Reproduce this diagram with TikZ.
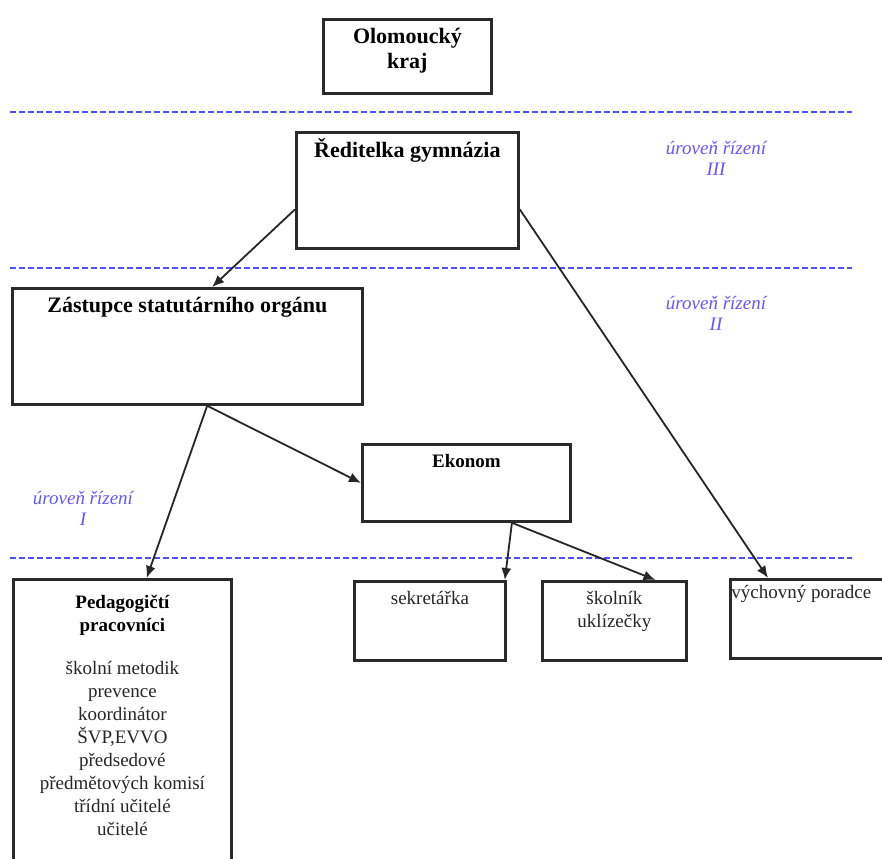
\documentclass[tikz,border=0pt]{standalone}
\usepackage{fontspec}
\setmainfont{Liberation Serif}
\usetikzlibrary{arrows.meta,calc}
\definecolor{lvlblue}{HTML}{6655FF}
\definecolor{dashblue}{HTML}{4F4FFF}
\definecolor{bordergray}{HTML}{2A2A2A}
\newcommand{\bxc}[4]{\parbox[c][#2][t]{#1}{\vspace*{#3}\centering #4\par}}
\newcommand{\hdbig}{\fontsize{22}{25}\bfseries\selectfont}
\newcommand{\hdmid}{\fontsize{19}{23}\bfseries\selectfont}
\newcommand{\bodyt}{\fontsize{19}{23}\mdseries\selectfont\color{black!85}}
\tikzset{
  bx/.style={draw=bordergray, line width=2.8pt, fill=white, inner sep=0pt, anchor=north west},
  arr/.style={-{Latex[length=12pt,width=10pt]}, line width=1.8pt, draw=black!85},
  lvlline/.style={draw=dashblue, line width=2.4pt, dash pattern=on 6pt off 3pt},
  lvllab/.style={align=center, inner sep=0pt, anchor=north, text=lvlblue,
    font=\fontsize{19}{21}\itshape\selectfont}
}
\begin{document}
\begin{tikzpicture}[x=1pt,y=-1pt]
\path[use as bounding box, fill=white] (0,0) rectangle (882,858);
\clip (0,0) rectangle (882,858);
% level lines
\draw[lvlline] (10,112) -- (852,112);
\draw[lvlline] (10,268) -- (852,268);
\draw[lvlline] (10,558) -- (852,558);
% boxes
\node[bx] (olo) at (322,18) {\bxc{168pt}{74pt}{9pt}{\hdbig Olomoucký\\kraj}};
\node[bx] (red) at (295,131) {\bxc{222pt}{116pt}{6pt}{\hdbig Ředitelka gymnázia}};
\node[bx] (zast) at (11,287) {\bxc{350pt}{116pt}{9pt}{\hdbig Zástupce statutárního orgánu}};
\node[bx] (ekon) at (361,443) {\bxc{208pt}{77pt}{10pt}{\hdmid Ekonom}};
\node[bx] (ped) at (12,578) {\bxc{218pt}{300pt}{16pt}{{\hdmid Pedagogičtí\\pracovníci\par}\vspace{20pt}{\bodyt školní metodik\\prevence\\koordinátor\\ŠVP,EVVO\\předsedové\\předmětových komisí\\třídní učitelé\\učitelé\par}}};
\node[bx] (sekr) at (353,580) {\bxc{151pt}{79pt}{10pt}{\bodyt sekretářka}};
\node[bx] (skol) at (541,580) {\bxc{144pt}{79pt}{10pt}{\bodyt školník\\uklízečky}};
\node[bx] (vych) at (729,578) {\parbox[c][79pt][t]{170pt}{\vspace*{6pt}\raggedright\hspace*{1pt}\bodyt výchovný poradce\par}};
% level labels
\node[lvllab] (l3) at (716,141) {úroveň řízení\\III};
\node[lvllab] (l2) at (716,296) {úroveň řízení\\II};
\node[lvllab] (l1) at (83,491) {úroveň řízení\\I};
% connectors
\draw[arr] ($(red.north west)!0.66!(red.south west)$) -- ($(zast.north west)!0.57!(zast.north east)$);
\draw[arr] ($(red.north east)!0.66!(red.south east)$) -- ($(vych.north west)+(39,0)$);
\draw[arr] ($(zast.south west)!0.556!(zast.south east)$) -- ($(ped.north west)!0.61!(ped.north east)$);
\draw[arr] ($(zast.south west)!0.556!(zast.south east)$) -- (ekon.west);
\draw[arr] ($(ekon.south west)!0.716!(ekon.south east)$) -- ($(sekr.north east)+(-2,0)$);
\draw[arr] ($(ekon.south west)!0.716!(ekon.south east)$) -- ($(skol.north west)!0.78!(skol.north east)$);
\end{tikzpicture}
\end{document}
